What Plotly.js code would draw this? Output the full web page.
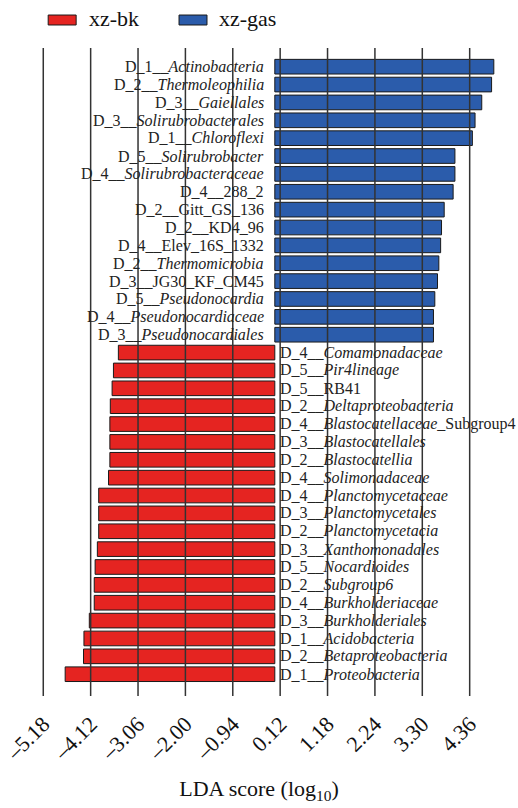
<!DOCTYPE html>
<html>
<head>
<meta charset="utf-8">
<script src="https://cdn.plot.ly/plotly-3.0.1.min.js"></script>
<style>html,body{margin:0;padding:0;background:#fff;}#chart{width:518px;height:808px;}</style>
</head>
<body>
<div id="chart"></div>
<script>
// ---- data ----
var gasLabels = [
  "D_1__<i>Actinobacteria</i>",
  "D_2__<i>Thermoleophilia</i>",
  "D_3__<i>Gaiellales</i>",
  "D_3__<i>Solirubrobacterales</i>",
  "D_1__<i>Chloroflexi</i>",
  "D_5__<i>Solirubrobacter</i>",
  "D_4__<i>Solirubrobacteraceae</i>",
  "D_4__288_2",
  "D_2__Gitt_GS_136",
  "D_2__KD4_96",
  "D_4__Elev_16S_1332",
  "D_2__<i>Thermomicrobia</i>",
  "D_3__JG30_KF_CM45",
  "D_5__<i>Pseudonocardia</i>",
  "D_4__<i>Pseudonocardiaceae</i>",
  "D_3__<i>Pseudonocardiales</i>"
];
var gasValues = [4.90, 4.85, 4.63, 4.48, 4.42, 4.03, 4.03, 3.99, 3.79, 3.73, 3.71, 3.67, 3.64, 3.58, 3.55, 3.55];

var bkLabels = [
  "D_4__<i>Comamonadaceae</i>",
  "D_5__<i>Pir4lineage</i>",
  "D_5__RB41",
  "D_2__<i>Deltaproteobacteria</i>",
  "D_4__<i>Blastocatellaceae</i>_Subgroup4",
  "D_3__<i>Blastocatellales</i>",
  "D_2__<i>Blastocatellia</i>",
  "D_4__<i>Solimonadaceae</i>",
  "D_4__<i>Planctomycetaceae</i>",
  "D_3__<i>Planctomycetales</i>",
  "D_2__<i>Planctomycetacia</i>",
  "D_3__<i>Xanthomonadales</i>",
  "D_5__<i>Nocardioides</i>",
  "D_2__<i>Subgroup6</i>",
  "D_4__<i>Burkholderiaceae</i>",
  "D_3__<i>Burkholderiales</i>",
  "D_1__<i>Acidobacteria</i>",
  "D_2__<i>Betaproteobacteria</i>",
  "D_1__<i>Proteobacteria</i>"
];
var bkValues = [-3.50, -3.61, -3.64, -3.68, -3.69, -3.69, -3.69, -3.72, -3.94, -3.94, -3.94, -3.97, -4.02, -4.04, -4.04, -4.15, -4.27, -4.28, -4.69];

var tickVals = [-5.18, -4.12, -3.06, -2.00, -0.94, 0.12, 1.18, 2.24, 3.30, 4.36];
var tickText = ["\u20135.18", "\u20134.12", "\u20133.06", "\u20132.00", "\u20130.94", "0.12", "1.18", "2.24", "3.30", "4.36"];

var groupNames = ["xz-bk", "xz-gas"];
var groupColors = ["#e52421", "#2b5cab"];

// ---- build ----
var serif = "'Liberation Serif', 'Times New Roman', serif";
var allLabels = gasLabels.concat(bkLabels);

var traces = [
  {
    type: "bar", orientation: "h", name: groupNames[1],
    x: gasValues, y: gasLabels,
    marker: {color: groupColors[1], line: {color: "#1a1a1a", width: 1}},
    showlegend: false, hoverinfo: "x+y"
  },
  {
    type: "bar", orientation: "h", name: groupNames[0],
    x: bkValues, y: bkLabels,
    marker: {color: groupColors[0], line: {color: "#1a1a1a", width: 1}},
    showlegend: false, hoverinfo: "x+y"
  }
];

var annotations = [];
gasLabels.forEach(function (lab) {
  annotations.push({x: 0, y: lab, xref: "x", yref: "y", text: lab, showarrow: false,
    xanchor: "right", yanchor: "middle", xshift: -10, borderpad: 0,
    font: {family: serif, size: 16, color: "#222"}});
});
bkLabels.forEach(function (lab) {
  annotations.push({x: 0, y: lab, xref: "x", yref: "y", text: lab, showarrow: false,
    xanchor: "left", yanchor: "middle", xshift: 4, borderpad: 0,
    font: {family: serif, size: 16, color: "#222"}});
});

// manual legend
var shapes = [];
var legX = [0.093, 0.3456];
var legOrder = [0, 1];
legOrder.forEach(function (g, i) {
  shapes.push({type: "rect", xref: "paper", yref: "paper",
    x0: legX[i], x1: legX[i] + 0.054, y0: 1.0355, y1: 1.0509,
    fillcolor: groupColors[g], line: {color: "#1a1a1a", width: 1}});
  annotations.push({xref: "paper", yref: "paper", x: legX[i] + 0.074, y: 1.045,
    text: groupNames[g], showarrow: false, xanchor: "left", yanchor: "middle",
    font: {family: serif, size: 22, color: "#111"}});
});

// vertical grid lines drawn above bars
tickVals.forEach(function (v) {
  shapes.push({type: "line", xref: "x", yref: "paper", x0: v, x1: v, y0: 0, y1: 1,
    layer: "above", line: {color: "#333", width: 1.5}});
});

var layout = {
  width: 518, height: 808,
  margin: {l: 0, r: 0, t: 48, b: 112, pad: 0},
  paper_bgcolor: "#fff", plot_bgcolor: "#fff",
  bargap: 0.18,
  barmode: "overlay",
  xaxis: {
    range: [-6.148, 5.441],
    tickvals: tickVals, ticktext: tickText,
    tickangle: -45,
    showgrid: false, zeroline: false, showline: false, ticks: "",
    ticklabelstandoff: 10,
    tickfont: {family: serif, size: 22, color: "#111"},
    title: {text: "LDA score (log<sub>10</sub>)", font: {family: serif, size: 22, color: "#111"}, standoff: 16}
  },
  yaxis: {
    type: "category",
    categoryorder: "array", categoryarray: allLabels,
    range: [35.22, -1.046],
    showticklabels: false, showgrid: false, zeroline: false, showline: false, ticks: ""
  },
  annotations: annotations,
  shapes: shapes,
  showlegend: false
};

Plotly.newPlot("chart", traces, layout, {displayModeBar: false, staticPlot: true});
</script>
</body>
</html>
